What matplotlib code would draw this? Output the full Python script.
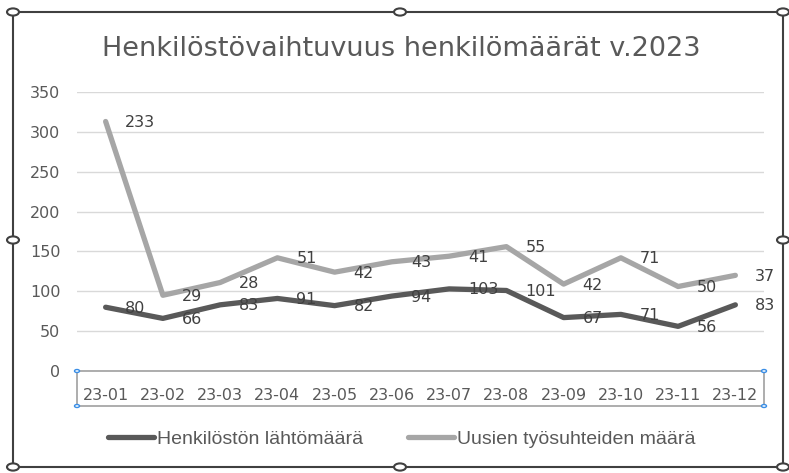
import matplotlib
matplotlib.use("Agg")
import matplotlib.pyplot as plt
from matplotlib.patches import Circle, Rectangle
from matplotlib.lines import Line2D

categories = ["23-01", "23-02", "23-03", "23-04", "23-05", "23-06",
              "23-07", "23-08", "23-09", "23-10", "23-11", "23-12"]
leaving = [80, 66, 83, 91, 82, 94, 103, 101, 67, 71, 56, 83]
new_hires = [233, 29, 28, 51, 42, 43, 41, 55, 42, 71, 50, 37]
yticks = [0, 50, 100, 150, 200, 250, 300, 350]
title = "Henkilöstövaihtuvuus henkilömäärät v.2023"
series_names = ["Henkilöstön lähtömäärä", "Uusien työsuhteiden määrä"]

plt.rcParams['font.family'] = ['DejaVu Sans']
W, H = 789, 473
fig = plt.figure(figsize=(W / 100, H / 100), dpi=100)

dark = "#595959"
light = "#a6a6a6"
txt = "#595959"
lbl = "#404040"
num_font = 'DejaVu Sans'
leg_font = ['Liberation Sans', 'DejaVu Sans']

def fx(px):
    return px / W

def fy(py):
    return 1 - py / H

ax = fig.add_axes([fx(77), fy(371), fx(764) - fx(77), fy(92) - fy(371)])
x = list(range(len(categories)))
stacked = [a + b for a, b in zip(leaving, new_hires)]

ax.plot(x, leaving, color=dark, lw=3.8, solid_capstyle='round', zorder=3)
ax.plot(x, stacked, color=light, lw=3.8, solid_capstyle='round', zorder=3)

for xi, v in zip(x, leaving):
    ax.annotate(str(v), (xi, v), xytext=(19, -1), textcoords='offset pixels',
                ha='left', va='center', fontsize=11.5, color=lbl, zorder=4,
                family=num_font)
for xi, v, s in zip(x, new_hires, stacked):
    ax.annotate(str(v), (xi, s), xytext=(19, -1), textcoords='offset pixels',
                ha='left', va='center', fontsize=11.5, color=lbl, zorder=4,
                family=num_font)

ax.set_xlim(-0.5, len(categories) - 0.5)
ax.set_ylim(0, 350)
ax.set_yticks(yticks)
ax.set_yticklabels([str(t) for t in yticks], fontsize=11.5, color=txt, family=num_font)
ax.set_xticks(x)
ax.set_xticklabels(categories, fontsize=11.5, color=txt, family=num_font)
ax.tick_params(axis='both', length=0)
ax.tick_params(axis='y', pad=12)
ax.tick_params(axis='x', pad=12)
ax.grid(axis='y', color="#d9d9d9", lw=1)
ax.set_axisbelow(True)
for s in ['top', 'right', 'left']:
    ax.spines[s].set_visible(False)
ax.spines['bottom'].set_color("#a0a0a0")
ax.spines['bottom'].set_linewidth(1.2)

# category selection box
fig.add_artist(Line2D([fx(77), fx(77)], [fy(371), fy(406)], color="#a0a0a0", lw=1.2))
fig.add_artist(Line2D([fx(764), fx(764)], [fy(371), fy(406)], color="#a0a0a0", lw=1.2))
fig.add_artist(Line2D([fx(77), fx(764)], [fy(406), fy(406)], color="#a0a0a0", lw=1.2))
for (px, py) in [(77, 371), (764, 371), (77, 406), (764, 406)]:
    fig.add_artist(Circle((fx(px), fy(py)), 2.5 / W, transform=fig.transFigure,
                          facecolor='white', edgecolor="#3a8ee6", lw=1.0, zorder=10))

# title
fig.text(fx(401), fy(56.5), title, ha='center', va='baseline', fontsize=19.5,
         color=txt, family=leg_font if False else 'DejaVu Sans')

# legend
ly = fy(437)
fig.add_artist(Line2D([fx(108), fx(154)], [ly, ly], color=dark, lw=3.8,
                      solid_capstyle='round'))
fig.text(fx(157), fy(444), series_names[0], ha='left', va='baseline', fontsize=14,
         color=txt, family=leg_font)
fig.add_artist(Line2D([fx(408), fx(454)], [ly, ly], color=light, lw=3.8,
                      solid_capstyle='round'))
fig.text(fx(457), fy(444), series_names[1], ha='left', va='baseline', fontsize=14,
         color=txt, family=leg_font)

# outer chart frame with selection handles
frame_col = "#404040"
fig.add_artist(Rectangle((fx(13), fy(467)), fx(783) - fx(13), fy(12) - fy(467),
                         transform=fig.transFigure, fill=False, edgecolor=frame_col, lw=1.5))
for (px, py) in [(13, 12), (400, 12), (783, 12), (13, 240), (783, 240),
                 (13, 467), (400, 467), (783, 467)]:
    fig.add_artist(Circle((fx(px), fy(py)), 6 / W, transform=fig.transFigure,
                          facecolor='white', edgecolor=frame_col, lw=1.5, zorder=10))

fig.savefig("out.png", dpi=100)
